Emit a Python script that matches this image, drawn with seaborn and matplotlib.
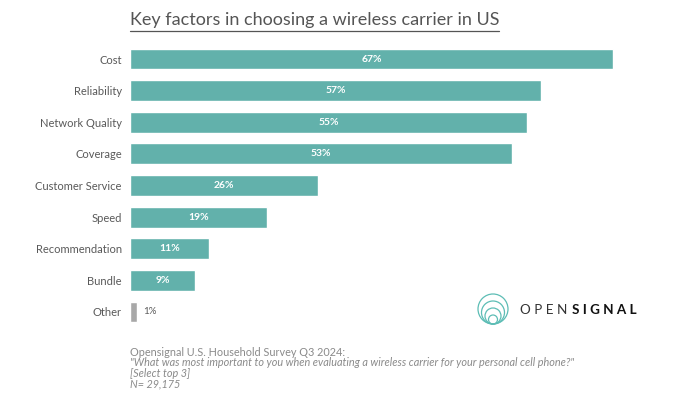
import matplotlib
matplotlib.use('Agg')
import matplotlib.pyplot as plt
import seaborn as sns
import pandas as pd
from matplotlib.patches import Circle

factors = ['Cost', 'Reliability', 'Network Quality', 'Coverage', 'Customer Service',
           'Speed', 'Recommendation', 'Bundle', 'Other']
shares = [67, 57, 55, 53, 26, 19, 11, 9, 1]
title = 'Key factors in choosing a wireless carrier in US'
footer = ['Opensignal U.S. Household Survey Q3 2024:',
          '"What was most important to you when evaluating a wireless carrier for your personal cell phone?"',
          '[Select top 3]',
          'N= 29,175']

TEAL = '#62B1AB'
GREY = '#A8A8A8'

sns.set_style('white')
plt.rcParams['font.family'] = ['Lato', 'DejaVu Sans']

df = pd.DataFrame({'factor': factors, 'share': shares})
palette = {f: (GREY if f == 'Other' else TEAL) for f in factors}

fig = plt.figure(figsize=(7, 3.99), dpi=100)
ax = fig.add_axes([130 / 700, 1 - 327.8 / 399, 505 / 700, (327.8 - 43.2) / 399])
sns.barplot(data=df, x='share', y='factor', hue='factor', palette=palette,
            order=factors, width=0.66, legend=False, ax=ax, saturation=1)
ax.set_xlim(0, 70)
ax.set_ylim(8.5, -0.5)
ax.set_xlabel('')
ax.set_ylabel('')
ax.set_xticks([])
sns.despine(ax=ax, left=True, bottom=True)
ax.tick_params(axis='y', length=0, pad=6, labelsize=8, labelcolor='#595959')

for i, v in enumerate(shares):
    if v >= 5:
        ax.text(v / 2, i, f'{v}%', ha='center', va='center', color='white',
                fontsize=7.5, fontweight='bold')
    else:
        ax.text(v + 0.8, i, f'{v}%', ha='left', va='center', color='#595959',
                fontsize=7)

# title, underlined
t = fig.text(130 / 700, 1 - 20 / 399, title, ha='left', va='center',
             fontsize=13, color='#555555')
fig.canvas.draw()
bb = t.get_window_extent()
fig.add_artist(plt.Line2D([bb.x0 / 700, bb.x1 / 700], [1 - 31 / 399] * 2,
                          transform=fig.transFigure, color='#555555', lw=0.9))

# footer
for k, line in enumerate(footer):
    fig.text(130 / 700, 1 - (352 + k * 10.8) / 399, line, ha='left', va='center',
             fontsize=7.8, color='#8a8a8a', style='normal' if k == 0 else 'italic')

# logo
lax = fig.add_axes([476 / 700, 1 - 326 / 399, 34 / 700, 34 / 399])
lax.set_xlim(0, 34)
lax.set_ylim(0, 34)
lax.set_aspect('equal')
lax.axis('off')
for r in [15, 11.5, 8, 4.5]:
    lax.add_patch(Circle((17, 2 + r), r, fill=False, ec='#5DBDB5', lw=0.9))
o = fig.text(520 / 700, 1 - 310 / 399, 'O P E N ', ha='left', va='center',
             fontsize=9.7, color='#333333', fontweight='normal')
fig.canvas.draw()
ob = o.get_window_extent()
fig.text(ob.x1 / 700 + 0.002, 1 - 310 / 399, 'S I G N A L', ha='left', va='center',
         fontsize=9.7, color='#111111', fontweight='bold')

fig.savefig('out.png', dpi=100, facecolor='white')
